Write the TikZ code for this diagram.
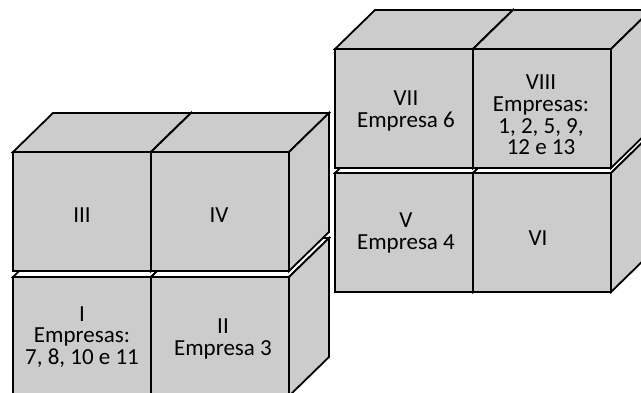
\documentclass[tikz,border=0pt]{standalone}
\usepackage{fontspec}
\setmainfont{Carlito}
\definecolor{boxgray}{RGB}{204,204,204}
\tikzset{
  face/.style={fill=boxgray,draw=black,line width=1.8pt,line join=miter},
  hidtop/.style={fill=white,draw=black,line width=1.8pt,line join=miter},
  lbl/.style={align=center,inner sep=0pt,text=black,font=\fontsize{23}{21.6}\selectfont}
}
\newcommand{\cubebox}[3]{%
  \begin{scope}[shift={(#1,#2)}]
    \path[#3] (0,0) -- (40,-39) -- (178,-39) -- (138,0) -- cycle;
    \path[face] (138,0) -- (178,-39) -- (178,80) -- (138,119) -- cycle;
    \path[face] (0,0) rectangle (138,119);
  \end{scope}}
\begin{document}
\begin{tikzpicture}[x=1pt,y=-1pt]
\useasboundingbox (0,0) rectangle (641,393);
\clip (0,0) rectangle (641,393);
\fill[white] (0,0) rectangle (641,393);
% left group, bottom row
\cubebox{13}{277}{hidtop}
\cubebox{151}{277}{hidtop}
% left group, top row
\cubebox{13}{152}{face}
\cubebox{151}{152}{face}
% right group, bottom row
\cubebox{335}{173}{hidtop}
\cubebox{473}{173}{hidtop}
% right group, top row
\cubebox{335}{49}{face}
\cubebox{473}{49}{face}
% labels
\node[lbl] (c3) at (82,215) {III};
\node[lbl] (c4) at (219,215) {IV};
\node[lbl] (c1) at (82,337) {I\\Empresas:\\7, 8, 10 e 11};
\node[lbl] (c2) at (223,339) {II\\Empresa 3};
\node[lbl] (c7) at (406,111) {VII\\Empresa 6};
\node[lbl] (c8) at (541,115) {VIII\\Empresas:\\1, 2, 5, 9,\\12 e 13};
\node[lbl] (c5) at (406,233) {V\\Empresa 4};
\node[lbl] (c6) at (538,238) {VI};
\end{tikzpicture}
\end{document}
